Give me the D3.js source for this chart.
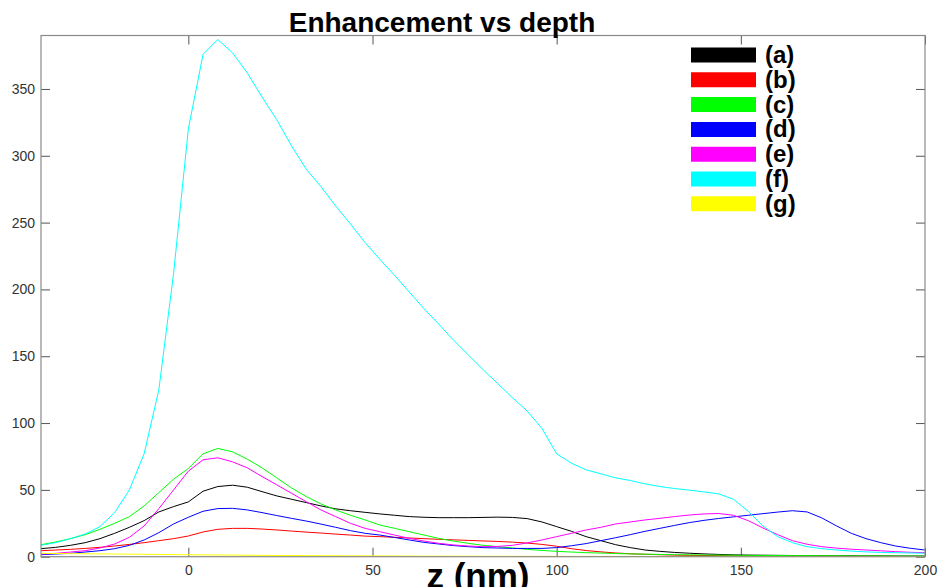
<!DOCTYPE html>
<html>
<head>
<meta charset="utf-8">
<script src="https://cdn.jsdelivr.net/npm/d3@7"></script>
<style>
  html, body { margin: 0; padding: 0; background: #fff; }
  svg { display: block; }
  text { font-family: "Liberation Sans", Arial, Helvetica, sans-serif; }
</style>
</head>
<body>
<svg id="chart" width="940" height="587"></svg>
<script>
// Depth grid (nm)
const depth = [-40,-36,-32,-28,-24,-20,-16,-12,-8,-4,0,4,8,12,16,20,24,28,32,36,40,44,48,52,56,60,64,68,72,76,80,84,88,92,96,100,104,108,112,116,120,124,128,132,136,140,144,148,152,156,160,164,168,172,176,180,184,188,192,196,200];

// Enhancement for each sample
const seriesA = [6,7,8.5,10.5,13.5,17.5,22,27,33.5,37.5,41,49,52.5,53.5,52,48.7,45.5,43,40.5,38,35.8,34.4,33.2,32,31,30,29.5,29.2,29.2,29.2,29.4,29.6,29.4,28.5,26,22.5,19,15,12,9,6.8,5,4,3.2,2.6,2.1,1.7,1.4,1.2,1.1,1,0.9,0.8,0.8,0.7,0.7,0.6,0.6,0.5,0.5,0.5];
const seriesB = [4.5,5,5.5,6.2,7,8,9.2,10.5,12,13.5,15.5,18.5,20.5,21.2,21.2,20.7,20,19.2,18.4,17.7,16.9,16.2,15.4,15,14.5,14,13.5,13,12.6,12.2,11.8,11.4,10.9,10.2,9.2,7.8,6,4.6,3.6,2.8,2.2,1.8,1.5,1.2,1,0.9,0.8,0.7,0.6,0.6,0.5,0.5,0.4,0.4,0.4,0.3,0.3,0.3,0.3,0.2,0.2];
const seriesC = [9,11,13.5,16.5,20.5,25,30,38,48,58,66,77,81,78.5,73,66.5,59,51.5,45,39.5,35,31,27.5,23.7,21.2,18.7,16.2,13.7,11.7,10,8.5,7.5,6.5,5.5,4.7,4,3.5,3,2.7,2.4,2.1,1.9,1.7,1.5,1.4,1.3,1.2,1.1,1,0.9,0.9,0.8,0.8,0.7,0.7,0.6,0.6,0.6,0.5,0.5,0.5];
const seriesD = [1.5,2,2.5,3.5,4.5,6,8.5,12.5,18,24.5,29.5,34,36,36.2,35,33,30.8,28.7,26.7,24.4,22,19.5,17.5,16.2,14.4,12.5,10.7,9.5,8.3,7.5,6.8,6.5,6.2,6.2,6.2,6.8,8.2,9.8,12,14.2,16.5,19,21.2,23.4,25.5,27.2,28.6,29.8,31,32.2,33.4,34.4,33.5,29,23,17.5,13.5,10.5,8,6.3,5];
const seriesE = [2,2.5,3.5,4.5,6.5,9.5,14.5,23,36,50,64,72.5,74,71,66.5,60,53.8,47.5,41.2,35,30,25,21.2,18.7,16.2,13.7,11.7,10,8.8,8,7.5,7.7,8.5,10.3,12.5,15,17.5,20,22,24.5,26,27.5,28.7,30,31.2,32,32.3,31,27,21.5,16.5,12,9.3,7.5,6.4,5.6,5,4.4,3.8,3.3,3];
const seriesF = [8.5,10.5,13.5,17,22.5,33,50,77,125,212,320,376,387,377,362,344,327,307.5,290,277,262.5,249,235,222.5,210.5,198,185.5,174,162,151,140,129.5,119,109,96,77,70,65,62,59,57,54.5,52.5,51,49.8,48.5,47,43,34,23,15,10.5,7.5,6,5,4.2,3.6,3.2,3,2.8,2.6];
const seriesG = [2.5,2.4,2.3,2.2,2.1,2,1.9,1.8,1.7,1.6,1.5,1.4,1.3,1.2,1.1,1,0.9,0.85,0.8,0.75,0.7,0.65,0.6,0.55,0.5,0.45,0.4,0.4,0.35,0.35,0.3,0.3,0.3,0.25,0.25,0.25,0.2,0.2,0.2,0.2,0.2,0.15,0.15,0.15,0.15,0.15,0.1,0.1,0.1,0.1,0.1,0.1,0.1,0.1,0.1,0.1,0.1,0.1,0.1,0.1,0.1];

const seriesNames = ["(a)","(b)","(c)","(d)","(e)","(f)","(g)"];
const seriesColors = ["#000000","#ff0000","#00ff00","#0000ff","#ff00ff","#00ffff","#ffff00"];
const seriesValues = [seriesA, seriesB, seriesC, seriesD, seriesE, seriesF, seriesG];

const xTicks = [0, 50, 100, 150, 200];
const yTicks = [0, 50, 100, 150, 200, 250, 300, 350];

const W = 940, H = 587;
const margin = { top: 35.5, right: 15, bottom: 30.3, left: 41 };
const innerW = W - margin.left - margin.right;
const innerH = H - margin.top - margin.bottom;

const svg = d3.select("#chart");
const g = svg.append("g").attr("transform", `translate(${margin.left},${margin.top})`);

const x = d3.scaleLinear().domain([-40, 200]).range([0, innerW]);
const y = d3.scaleLinear().domain([0, 390]).range([innerH, 0]);

const axisColor = "#8a8a8a";
const tickColor = "#555";
const labelColor = "#333";

function styleAxis(sel, showLabels) {
  sel.select(".domain").remove();
  sel.selectAll(".tick line").attr("stroke", tickColor).attr("stroke-width", 1);
  sel.selectAll(".tick text")
    .attr("fill", labelColor)
    .style("font-size", "14px")
    .style("display", showLabels ? null : "none");
}

// Bottom and left axes with inward ticks
g.append("g")
  .attr("transform", `translate(0,${innerH})`)
  .call(d3.axisBottom(x).tickValues(xTicks).tickSizeInner(-9).tickSizeOuter(0).tickPadding(8))
  .call(s => styleAxis(s, true));

g.append("g")
  .call(d3.axisLeft(y).tickValues(yTicks).tickSizeInner(-9).tickSizeOuter(0).tickPadding(6))
  .call(s => styleAxis(s, true));

// Top and right axes: ticks only
g.append("g")
  .call(d3.axisTop(x).tickValues(xTicks).tickSizeInner(-9).tickSizeOuter(0))
  .call(s => styleAxis(s, false));

g.append("g")
  .attr("transform", `translate(${innerW},0)`)
  .call(d3.axisRight(y).tickValues(yTicks).tickSizeInner(-9).tickSizeOuter(0))
  .call(s => styleAxis(s, false));

// Curves
const line = d3.line()
  .x((d, i) => x(depth[i]))
  .y(d => y(d));

const clip = g.append("clipPath").attr("id", "plotClip")
  .append("rect").attr("width", innerW).attr("height", innerH + 1);

const curves = g.append("g").attr("clip-path", "url(#plotClip)");
seriesValues.forEach((vals, k) => {
  curves.append("path")
    .datum(vals)
    .attr("fill", "none")
    .attr("stroke", seriesColors[k])
    .attr("stroke-width", 1)
    .attr("stroke-linejoin", "round")
    .attr("d", line);
});

// Plot box
g.append("rect")
  .attr("x", 0).attr("y", 0)
  .attr("width", innerW).attr("height", innerH)
  .attr("fill", "none")
  .attr("stroke", axisColor)
  .attr("stroke-width", 1.2);

// Legend
const legend = svg.append("g");
const legX0 = 691, legX1 = 756, legY0 = 55, legStep = 24.8;
seriesNames.forEach((name, k) => {
  const cy = legY0 + k * legStep;
  legend.append("line")
    .attr("x1", legX0).attr("x2", legX1)
    .attr("y1", cy).attr("y2", cy)
    .attr("stroke", seriesColors[k])
    .attr("stroke-width", 15);
  legend.append("text")
    .attr("x", 765)
    .attr("y", cy + 8)
    .attr("fill", "#000")
    .style("font-size", "24px")
    .style("font-weight", "bold")
    .text(name);
});

// Title
svg.append("text")
  .attr("x", 442)
  .attr("y", 31.5)
  .attr("text-anchor", "middle")
  .attr("fill", "#000")
  .style("font-size", "28px")
  .style("font-weight", "bold")
  .text("Enhancement vs depth");

// X axis label
svg.append("text")
  .attr("x", 478)
  .attr("y", 588)
  .attr("text-anchor", "middle")
  .attr("fill", "#000")
  .style("font-size", "35px")
  .style("font-weight", "bold")
  .text("z (nm)");
</script>
</body>
</html>
